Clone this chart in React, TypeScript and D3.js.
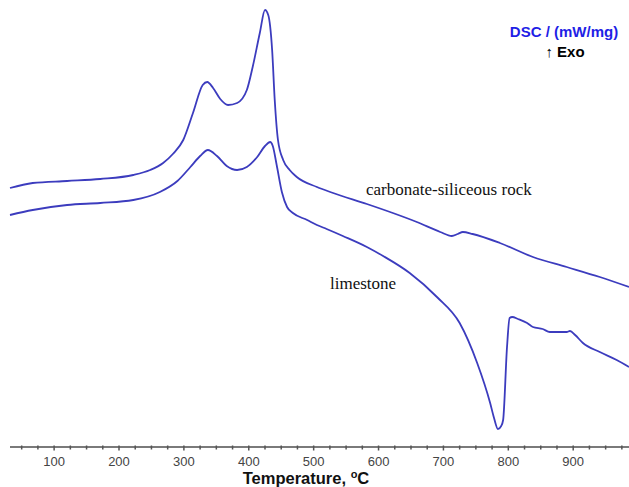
import { useEffect, useRef } from 'react';
import * as d3 from 'd3';

// temperature (°C) and DSC signal (arbitrary offset units, mW/mg)
const rockTemp = [32, 67, 120, 171, 222, 248, 268, 283, 299, 314, 329, 336, 345, 356, 368, 382, 397, 406, 417, 425, 430, 436, 440, 445, 453, 463, 474, 505, 530, 582, 622, 659, 695, 713, 722, 730, 745, 787, 838, 890, 941, 986];
const rockDsc = [2.59, 2.64, 2.66, 2.68, 2.72, 2.77, 2.84, 2.93, 3.07, 3.34, 3.62, 3.65, 3.59, 3.48, 3.42, 3.44, 3.57, 3.80, 4.14, 4.37, 4.32, 3.97, 3.47, 3.07, 2.87, 2.77, 2.70, 2.60, 2.54, 2.43, 2.34, 2.25, 2.15, 2.11, 2.13, 2.15, 2.13, 2.04, 1.90, 1.80, 1.70, 1.60];

const limeTemp = [32, 67, 120, 171, 222, 263, 290, 310, 325, 337, 351, 366, 382, 397, 413, 425, 433, 437, 443, 451, 459, 468, 490, 505, 520, 545, 582, 607, 648, 690, 725, 752, 772, 778, 784, 789, 792, 798, 802, 806, 815, 829, 838, 853, 864, 879, 890, 895, 903, 915, 941, 967, 986];
const limeDsc = [2.32, 2.37, 2.42, 2.44, 2.47, 2.55, 2.66, 2.80, 2.91, 2.97, 2.91, 2.81, 2.77, 2.80, 2.90, 3.01, 3.05, 3.01, 2.82, 2.55, 2.40, 2.34, 2.27, 2.22, 2.18, 2.11, 2.00, 1.91, 1.74, 1.50, 1.24, 0.84, 0.44, 0.29, 0.18, 0.21, 0.27, 1.00, 1.29, 1.30, 1.28, 1.24, 1.20, 1.18, 1.15, 1.15, 1.15, 1.16, 1.12, 1.04, 0.95, 0.87, 0.80];

const tickLabels = [100, 200, 300, 400, 500, 600, 700, 800, 900];

export default function App() {
  const svgRef = useRef<SVGSVGElement>(null);
  const width = 629;
  const height = 487;

  useEffect(() => {
    const svg = d3.select(svgRef.current);
    svg.selectAll('*').remove();

    const x = d3.scaleLinear().domain([32, 986]).range([10, 629]);
    const y = d3.scaleLinear().domain([0, 4.4]).range([447, 7]);

    const line = d3.line<[number, number]>()
      .x(d => x(d[0]))
      .y(d => y(d[1]))
      .curve(d3.curveMonotoneX);

    const series = [
      d3.zip(rockTemp, rockDsc) as [number, number][],
      d3.zip(limeTemp, limeDsc) as [number, number][],
    ];

    svg.selectAll('path.curve')
      .data(series)
      .join('path')
      .attr('class', 'curve')
      .attr('d', d => line(d))
      .attr('fill', 'none')
      .attr('stroke', '#3c3cbe')
      .attr('stroke-width', 1.8)
      .attr('stroke-linejoin', 'round');

    // x axis
    const axisY = 447;
    svg.append('line')
      .attr('x1', 10).attr('x2', 629)
      .attr('y1', axisY).attr('y2', axisY)
      .attr('stroke', '#7a7a7a')
      .attr('stroke-width', 2);

    const minor = d3.range(50, 986, 25);
    svg.selectAll('line.tick')
      .data(minor)
      .join('line')
      .attr('class', 'tick')
      .attr('x1', d => x(d)).attr('x2', d => x(d))
      .attr('y1', axisY - 1.5)
      .attr('y2', d => axisY + (d % 100 === 0 ? 3.5 : 2.5))
      .attr('stroke', '#555')
      .attr('stroke-width', 1.5);

    svg.selectAll('text.tlabel')
      .data(tickLabels)
      .join('text')
      .attr('class', 'tlabel')
      .attr('x', d => x(d))
      .attr('y', 466)
      .attr('text-anchor', 'middle')
      .attr('fill', '#444')
      .style('font-family', 'Liberation Sans, Arial, sans-serif')
      .style('font-size', '13px')
      .text(d => d);

    const title = svg.append('text')
      .attr('x', 306)
      .attr('y', 484)
      .attr('text-anchor', 'middle')
      .attr('fill', '#111')
      .style('font-family', 'Liberation Sans, Arial, sans-serif')
      .style('font-size', '16.5px')
      .style('font-weight', '700');
    title.append('tspan').text('Temperature, ');
    title.append('tspan').attr('dy', -6).style('font-size', '11px').text('o');
    title.append('tspan').attr('dy', 6).text('C');

    // header
    svg.append('text')
      .attr('x', 564)
      .attr('y', 37)
      .attr('text-anchor', 'middle')
      .attr('fill', '#1f1fe6')
      .style('font-family', 'Liberation Sans, Arial, sans-serif')
      .style('font-size', '15px')
      .style('font-weight', '700')
      .text('DSC / (mW/mg)');

    const exo = svg.append('text')
      .attr('x', 565)
      .attr('y', 57)
      .attr('text-anchor', 'middle')
      .attr('fill', '#000')
      .style('font-family', 'Liberation Sans, Arial, sans-serif')
      .style('font-size', '15px');
    exo.append('tspan').style('font-weight', '400').text('↑ ');
    exo.append('tspan').style('font-weight', '700').text('Exo');

    // curve labels
    svg.append('text')
      .attr('x', 366)
      .attr('y', 195)
      .attr('fill', '#111')
      .style('font-family', 'Liberation Serif, Times New Roman, serif')
      .style('font-size', '17px')
      .text('carbonate-siliceous rock');

    svg.append('text')
      .attr('x', 330)
      .attr('y', 289)
      .attr('fill', '#111')
      .style('font-family', 'Liberation Serif, Times New Roman, serif')
      .style('font-size', '17px')
      .text('limestone');
  }, []);

  return (
    <svg
      ref={svgRef}
      width={width}
      height={height}
      style={{ position: 'absolute', left: 0, top: 0, background: '#fff' }}
    />
  );
}
